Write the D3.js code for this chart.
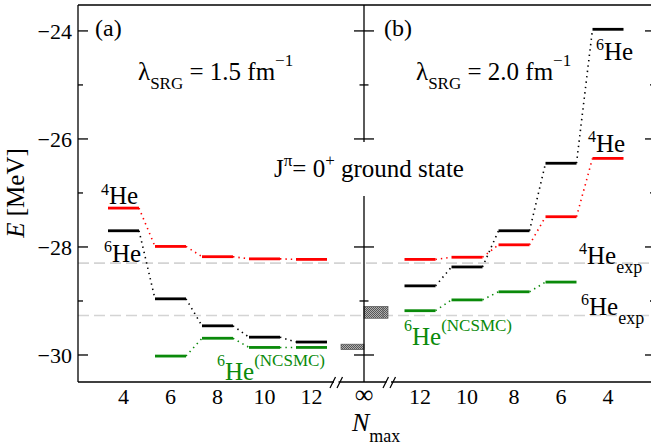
<!DOCTYPE html>
<html><head><meta charset="utf-8">
<script src="https://cdn.jsdelivr.net/npm/d3@7"></script>
<style>body{margin:0;background:#fff}svg{display:block}text{font-family:"Liberation Serif","Times New Roman",serif}</style>
</head><body>
<script>
// ---- data ----
const nmaxA = [4, 6, 8, 10, 12];
const he4A = [-27.28, -27.99, -28.18, -28.22, -28.23];
const he6A = [-27.70, -28.96, -29.46, -29.67, -29.76];
const nmaxNcsmcA = [6, 8, 10, 12];
const ncsmcA = [-30.02, -29.69, -29.86, -29.86];

const nmaxB = [12, 10, 8, 6, 4];
const he4B = [-28.23, -28.19, -27.96, -27.44, -26.36];
const he6B = [-28.72, -28.37, -27.70, -26.45, -23.97];
const nmaxNcsmcB = [12, 10, 8, 6];
const ncsmcB = [-29.18, -28.98, -28.83, -28.65];

const expHe4 = -28.30, expHe6 = -29.27;
const infA = [-29.90, -29.80];   // extrapolation band, panel (a)
const infB = [-29.32, -29.10];   // extrapolation band, panel (b)

const yMajor = [-24, -26, -28, -30];
const yMinor = [-25, -27, -29];

// ---- layout ----
const W = 651, H = 448;
const L = 78, R = 655, T = 5, B = 382, MID = 364;
const RED = "#ff0000", GREEN = "#0a8a0a";
const svg = d3.select("body").append("svg").attr("width", W).attr("height", H);

const y = d3.scaleLinear().domain([-30.5, -23.52]).range([B, T]);
const xA = d3.scaleLinear().domain([4, 12]).range([123.5, 311.5]);
const xB = d3.scaleLinear().domain([12, 4]).range([420, 608]);
const hw = 15.5;

const defs = svg.append("defs");
const pat = defs.append("pattern").attr("id", "hatch").attr("width", 2).attr("height", 2).attr("patternUnits", "userSpaceOnUse");
pat.append("rect").attr("width", 2).attr("height", 2).attr("fill", "#b0b0b0");
pat.append("rect").attr("width", 1).attr("height", 1).attr("fill", "#555");
pat.append("rect").attr("x", 1).attr("y", 1).attr("width", 1).attr("height", 1).attr("fill", "#555");

// experimental dashed lines
[expHe4, expHe6].forEach(v => {
  svg.append("line").attr("x1", L).attr("x2", R).attr("y1", y(v)).attr("y2", y(v))
    .attr("stroke", "#d4d4d4").attr("stroke-width", 1.6).attr("stroke-dasharray", "11,5");
});

// levels
function levels(xs, ns, vals, color) {
  const g = svg.append("g");
  const pts = ns.map((n, i) => ({x: xs(n), v: vals[i]}));
  pts.sort((a, b) => a.x - b.x);
  for (let i = 0; i < pts.length - 1; i++) {
    g.append("line").attr("x1", pts[i].x + hw).attr("y1", y(pts[i].v))
      .attr("x2", pts[i + 1].x - hw).attr("y2", y(pts[i + 1].v))
      .attr("stroke", color).attr("stroke-width", 1.6).attr("stroke-dasharray", "1.4,4");
  }
  g.selectAll("line.lv").data(pts).enter().append("line").attr("class", "lv")
    .attr("x1", d => d.x - hw).attr("x2", d => d.x + hw)
    .attr("y1", d => y(d.v)).attr("y2", d => y(d.v))
    .attr("stroke", color).attr("stroke-width", 2.8);
}
levels(xA, nmaxA, he4A, RED);
levels(xA, nmaxA, he6A, "#000");
levels(xA, nmaxNcsmcA, ncsmcA, GREEN);
levels(xB, nmaxB, he4B, RED);
levels(xB, nmaxB, he6B, "#000");
levels(xB, nmaxNcsmcB, ncsmcB, GREEN);

// extrapolation bands at infinity
svg.append("rect").attr("x", MID - 23).attr("width", 23)
  .attr("y", y(infA[1])).attr("height", y(infA[0]) - y(infA[1]))
  .attr("fill", "url(#hatch)").attr("stroke", "#555").attr("stroke-width", 0.7);
svg.append("rect").attr("x", MID).attr("width", 24)
  .attr("y", y(infB[1])).attr("height", y(infB[0]) - y(infB[1]))
  .attr("fill", "url(#hatch)").attr("stroke", "#555").attr("stroke-width", 0.7);
svg.append("line").attr("x1", MID + 19).attr("x2", MID + 19).attr("y1", y(infB[1])).attr("y2", y(infB[0]))
  .attr("stroke", "#666").attr("stroke-width", 0.8);

// frame: left axis, top line
const ax = svg.append("g").attr("stroke", "#000").attr("stroke-width", 1.3);
ax.append("line").attr("x1", L).attr("x2", L).attr("y1", T).attr("y2", B);
ax.append("line").attr("x1", L).attr("x2", R).attr("y1", T).attr("y2", T);
ax.append("line").attr("x1", R).attr("x2", R).attr("y1", T).attr("y2", B);
// middle axis
ax.append("line").attr("x1", MID).attr("x2", MID).attr("y1", T).attr("y2", B);
// bottom axis with breaks
[[L, 334], [338.5, 386.5], [391, R]].forEach(s =>
  ax.append("line").attr("x1", s[0]).attr("x2", s[1]).attr("y1", B).attr("y2", B));
[330, 337, 383, 390].forEach(x0 =>
  ax.append("line").attr("x1", x0).attr("y1", B + 6).attr("x2", x0 + 5.5).attr("y2", B - 5));

// y ticks
yMajor.forEach(v => {
  ax.append("line").attr("x1", L).attr("x2", L + 10).attr("y1", y(v)).attr("y2", y(v));
  ax.append("line").attr("x1", R - 10).attr("x2", R).attr("y1", y(v)).attr("y2", y(v));
  ax.append("line").attr("x1", MID - 10).attr("x2", MID + 10).attr("y1", y(v)).attr("y2", y(v));
});
yMinor.forEach(v => {
  ax.append("line").attr("x1", L).attr("x2", L + 5).attr("y1", y(v)).attr("y2", y(v));
  ax.append("line").attr("x1", R - 5).attr("x2", R).attr("y1", y(v)).attr("y2", y(v));
  ax.append("line").attr("x1", MID - 4.5).attr("x2", MID + 4.5).attr("y1", y(v)).attr("y2", y(v));
});
svg.append("g").selectAll("text").data(yMajor).enter().append("text")
  .attr("x", L - 6).attr("y", d => y(d)).attr("dy", "0.35em").attr("text-anchor", "end")
  .attr("font-size", 22).text(d => "\u2212" + Math.abs(d));

// x tick labels
const xl = svg.append("g").attr("font-size", 22).attr("text-anchor", "middle");
nmaxA.forEach(n => xl.append("text").attr("x", xA(n)).attr("y", 404).text(n));
nmaxB.forEach(n => xl.append("text").attr("x", xB(n)).attr("y", 404).text(n));
xl.append("text").attr("x", MID).attr("y", 403).attr("font-size", 26).text("\u221e");

// axis titles
const yt = svg.append("text").attr("transform", "translate(24,193) rotate(-90)")
  .attr("text-anchor", "middle").attr("font-size", 25);
yt.append("tspan").attr("font-style", "italic").text("E");
yt.append("tspan").text(" [MeV]");
const xt = svg.append("text").attr("x", 352).attr("y", 431).attr("font-size", 26);
xt.append("tspan").attr("font-style", "italic").text("N");
xt.append("tspan").attr("font-size", 18).attr("dy", 11).text("max");

// panel labels
svg.append("text").attr("x", 95).attr("y", 36).attr("font-size", 24).text("(a)");
svg.append("text").attr("x", 384).attr("y", 36).attr("font-size", 24).text("(b)");

function lambda(x0, val) {
  const t = svg.append("text").attr("x", x0).attr("y", 80).attr("font-size", 25);
  t.append("tspan").text("\u03bb");
  t.append("tspan").attr("font-size", 17).attr("dy", 9).text("SRG");
  t.append("tspan").attr("dy", -9).text(" = " + val + " fm");
  t.append("tspan").attr("font-size", 17).attr("dy", -14).text("\u22121");
}
lambda(138, "1.5");
lambda(416, "2.0");

// white gap in middle axis behind the J^pi text
svg.append("rect").attr("x", MID - 14).attr("y", 142).attr("width", 28).attr("height", 54).attr("fill", "#fff");
const jt = svg.append("text").attr("x", 274).attr("y", 177).attr("font-size", 25);
jt.append("tspan").text("J");
jt.append("tspan").attr("font-size", 17).attr("dy", -11).text("\u03c0");
jt.append("tspan").attr("dy", 11).text("= 0");
jt.append("tspan").attr("font-size", 17).attr("dy", -11).text("+");
jt.append("tspan").attr("dy", 11).text(" ground state");

// isotope labels
function iso(x0, y0, mass, color, sup, sub, supDy) {
  const t = svg.append("text").attr("x", x0).attr("y", y0).attr("font-size", 25).attr("fill", color);
  t.append("tspan").attr("font-size", 16).attr("dy", -supDy).text(mass);
  t.append("tspan").attr("dy", supDy).text("He");
  if (sup) t.append("tspan").attr("font-size", 17).attr("dy", -supDy).text(sup);
  if (sub) t.append("tspan").attr("font-size", 18).attr("dy", 9).text(sub);
}
iso(101, 204, "4", "#000", null, null, 9);
iso(104, 262, "6", "#000", null, null, 10);
iso(217, 380, "6", GREEN, "(NCSMC)", null, 14);
iso(596, 60, "6", "#000", null, null, 10);
iso(588, 152, "4", "#000", null, null, 10);
iso(579, 264, "4", "#000", null, "exp", 10);
iso(581, 315, "6", "#000", null, "exp", 10);
iso(404, 345, "6", GREEN, "(NCSMC)", null, 14);
</script>
</body></html>
